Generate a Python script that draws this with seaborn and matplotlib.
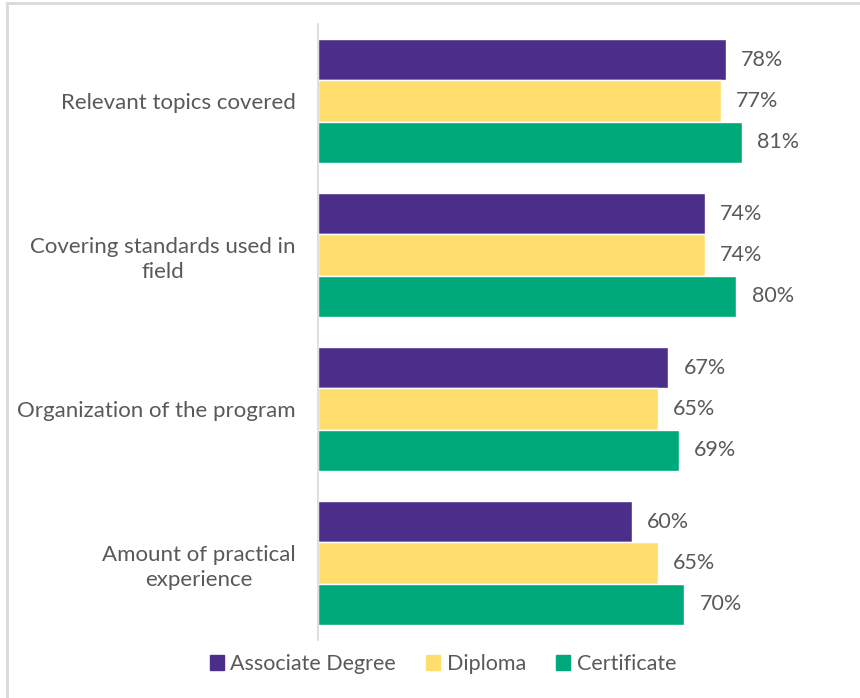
import pandas as pd
import matplotlib.pyplot as plt
import seaborn as sns
from matplotlib.patches import Rectangle

# Data
categories = ["Relevant topics covered",
              "Covering standards used in\nfield",
              "Organization of the program",
              "Amount of practical\nexperience"]
series = ["Associate Degree", "Diploma", "Certificate"]
associate = [78, 74, 67, 60]
diploma = [77, 74, 65, 65]
certificate = [81, 80, 69, 70]

colors = ["#4B2E8A", "#FFDE6E", "#00A97A"]
text_color = "#595959"
fs = 15.5

df = pd.DataFrame({
    "Category": categories * 3,
    "Program": [s for s in series for _ in categories],
    "Value": associate + diploma + certificate,
})

sns.set_theme(style="white")
plt.rcParams["font.family"] = ["Lato", "DejaVu Sans"]

fig = plt.figure(figsize=(8.6, 6.98), dpi=100)
ax = fig.add_axes([318 / 860, 1 - 640 / 698, (841 - 318) / 860, (640 - 24) / 698])

sns.barplot(data=df, y="Category", x="Value", hue="Program", orient="h",
            palette=colors, width=0.8, saturation=1, ax=ax, legend=False)

for container in ax.containers:
    ax.bar_label(container, labels=[f"{int(v)}%" for v in container.datavalues],
                 padding=11, fontsize=fs, color=text_color)

ax.set_xlim(0, 100)
ax.set_xlabel("")
ax.set_ylabel("")
ax.set_xticks([])
for s in ["top", "right", "bottom"]:
    ax.spines[s].set_visible(False)
ax.spines["left"].set_color("#D9D9D9")
ax.spines["left"].set_linewidth(1.2)
ax.tick_params(axis="y", length=0, pad=16, labelsize=fs + 0.5, labelcolor=text_color)
for lbl in ax.get_yticklabels():
    lbl.set_multialignment("center")
    lbl.set_linespacing(1.3)

handles = [Rectangle((0, 0), 1, 1, color=c) for c in colors]
fig.legend(handles, series, loc="center", bbox_to_anchor=(0.5 + 13 / 860, 1 - 664 / 698),
           ncol=3, frameon=False, fontsize=fs, labelcolor=text_color,
           handlelength=0.65, handleheight=0.65, handletextpad=0.3, columnspacing=1.4)

# light outer frame (left and top edges visible)
fig.patches.append(Rectangle((7 / 860, -0.1), 1.1, 1 - 3 / 698 + 0.1,
                             transform=fig.transFigure, fill=False,
                             edgecolor="#D9D9D9", linewidth=2))

fig.savefig("out.png", dpi=100)
